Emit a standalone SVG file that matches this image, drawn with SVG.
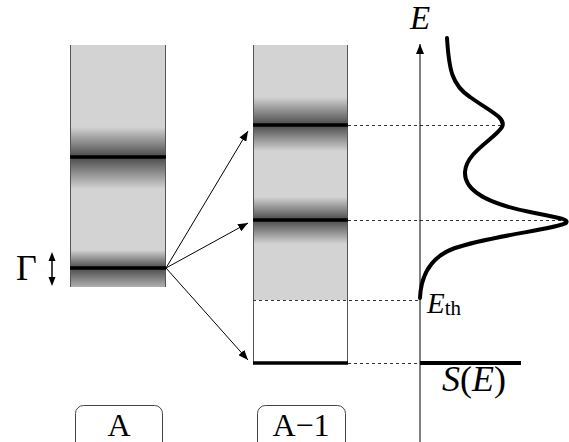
<svg xmlns="http://www.w3.org/2000/svg" width="569" height="442" viewBox="0 0 569 442">
<style>
.lvl{stroke:#000;stroke-width:3.5;fill:none}
.side{stroke:#555;stroke-width:1;fill:none}
.dash{stroke:#333;stroke-width:1;stroke-dasharray:3,3;fill:none}
.arr{stroke:#000;stroke-width:1;fill:none;marker-end:url(#ah)}
.t{font-family:"Liberation Serif","Times New Roman",serif;fill:#000}
.box{fill:#fff;stroke:#444;stroke-width:1}
</style>
<defs>
<marker id="ah" viewBox="0 0 10 8" refX="10" refY="4" markerWidth="10" markerHeight="8" markerUnits="userSpaceOnUse" orient="auto">
<path d="M0,0 L10,4 L0,8 Z" fill="#000"/>
</marker>
<linearGradient id="up" x1="0" y1="0" x2="0" y2="1">
<stop offset="0" stop-color="#d3d3d3"/>
<stop offset="1" stop-color="#4a4a4a"/>
</linearGradient>
<linearGradient id="down" x1="0" y1="0" x2="0" y2="1">
<stop offset="0" stop-color="#4a4a4a"/>
<stop offset="1" stop-color="#d3d3d3"/>
</linearGradient>
<linearGradient id="downA" x1="0" y1="0" x2="0" y2="1">
<stop offset="0" stop-color="#4a4a4a"/>
<stop offset="1" stop-color="#b0b0b0"/>
</linearGradient>
</defs>

<g id="columnA">
<rect x="70" y="45" width="96" height="242" fill="#d3d3d3"/>
<rect x="70" y="127" width="96" height="30" fill="url(#up)"/>
<rect x="70" y="157" width="96" height="32" fill="url(#down)"/>
<rect x="70" y="250" width="96" height="18" fill="url(#up)"/>
<rect x="70" y="268" width="96" height="19" fill="url(#downA)"/>
<line class="side" x1="70.5" y1="45" x2="70.5" y2="287"/>
<line class="side" x1="165.5" y1="45" x2="165.5" y2="287"/>
<line class="lvl" x1="70" y1="157" x2="166" y2="157"/>
<line class="lvl" x1="70" y1="268" x2="166" y2="268"/>
</g>

<g id="gamma">
<text class="t" x="16" y="280" font-size="36">Γ</text>
<line x1="52" y1="259" x2="52" y2="279" stroke="#000" stroke-width="1.5"/>
<path d="M52,252 L48.5,261 L55.5,261 Z M52,286 L48.5,277 L55.5,277 Z" fill="#000"/>
</g>

<g id="columnA1">
<rect x="253" y="45" width="95" height="255" fill="#d3d3d3"/>
<rect x="253" y="97" width="95" height="28" fill="url(#up)"/>
<rect x="253" y="125" width="95" height="26" fill="url(#down)"/>
<rect x="253" y="197" width="95" height="23" fill="url(#up)"/>
<rect x="253" y="220" width="95" height="24" fill="url(#down)"/>
<line class="side" x1="253.5" y1="45" x2="253.5" y2="363"/>
<line class="side" x1="347.5" y1="45" x2="347.5" y2="363"/>
<line class="lvl" x1="253" y1="125" x2="348" y2="125"/>
<line class="lvl" x1="253" y1="220" x2="348" y2="220"/>
<line class="lvl" x1="253" y1="363" x2="348" y2="363"/>
</g>

<g id="connectors">
<line class="arr" x1="166" y1="268" x2="248" y2="131"/>
<line class="arr" x1="166" y1="268" x2="248" y2="223"/>
<line class="arr" x1="166" y1="268" x2="248" y2="360"/>
<line class="dash" x1="348" y1="125.5" x2="502" y2="125.5"/>
<line class="dash" x1="348" y1="220.5" x2="566" y2="220.5"/>
<line class="dash" x1="253" y1="300.5" x2="420" y2="300.5"/>
<line class="dash" x1="348" y1="363.5" x2="420" y2="363.5"/>
</g>

<g id="spectrum">
<line x1="420" y1="442" x2="420" y2="44" stroke="#000" stroke-width="1" marker-end="url(#ah)"/>
<text class="t" x="410" y="29" font-size="33" font-style="italic">E</text>
<path d="M447,38 C449,70 452,85 470,97 C488,110 507,118 502,127 C496,138 466,152 465,172 C464,192 490,204 530,212 C555,217 570,219 566,223 C556,229 490,236 455,248 C430,257 421,275 420,298" fill="none" stroke="#000" stroke-width="4" stroke-linecap="round"/>
<line x1="420" y1="363" x2="521" y2="363" stroke="#000" stroke-width="4"/>
<text class="t" x="427" y="313" font-size="29"><tspan font-style="italic">E</tspan><tspan font-size="21" dy="2">th</tspan></text>
<text class="t" x="442" y="391" font-size="36"><tspan font-style="italic">S</tspan>(<tspan font-style="italic">E</tspan>)</text>
</g>

<g id="labelA">
<rect class="box" x="75.5" y="405.5" width="87" height="45" rx="8"/>
<text class="t" x="119" y="436" font-size="32" text-anchor="middle">A</text>
</g>
<g id="labelA1">
<rect class="box" x="257.5" y="405.5" width="88" height="45" rx="8"/>
<text class="t" x="301" y="436" font-size="32" text-anchor="middle">A−1</text>
</g>
</svg>
